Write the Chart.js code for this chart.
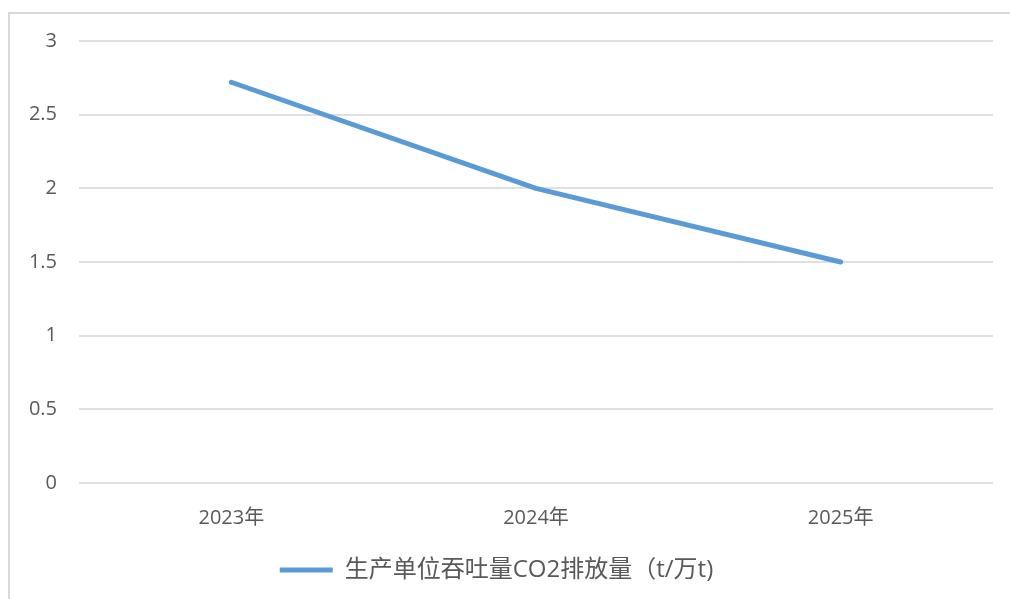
<!DOCTYPE html>
<html>
<head>
<meta charset="utf-8">
<script src="https://cdn.jsdelivr.net/npm/chart.js@4"></script>
<style>
  html, body { margin: 0; padding: 0; background: #fff; overflow: hidden; }
  #frame {
    position: absolute; left: 8px; top: 12px; width: 1010px; height: 600px;
    border: 2px solid #d9d9d9; box-sizing: border-box;
  }
  #wrap { position: absolute; left: 0; top: 0; width: 1010px; height: 599px; }
</style>
</head>
<body>
<div id="frame"></div>
<div id="wrap"><canvas id="co2Chart"></canvas></div>
<script>
// chart data
const years = ['2023年', '2024年', '2025年'];
const co2PerThroughput = [2.72, 2.0, 1.5];
const seriesName = '生产单位吞吐量CO2排放量（t/万t)';
const yTicks = [0, 0.5, 1, 1.5, 2, 2.5, 3];

const textColor = '#595959';
const fontFamily = '"Open Sans", "Noto Sans CJK SC", sans-serif';

const ctx = document.getElementById('co2Chart').getContext('2d');

new Chart(ctx, {
  type: 'line',
  data: {
    labels: years,
    datasets: [{
      label: seriesName,
      data: co2PerThroughput,
      borderColor: '#5B9BD5',
      backgroundColor: '#5B9BD5',
      borderWidth: 5,
      borderCapStyle: 'round',
      borderJoinStyle: 'round',
      pointRadius: 0,
      pointHoverRadius: 0,
      tension: 0
    }]
  },
  options: {
    responsive: true,
    maintainAspectRatio: false,
    animation: false,
    layout: { padding: { left: 0, top: 41, right: 17, bottom: 7 } },
    scales: {
      x: {
        offset: true,
        grid: { display: false },
        border: { display: false },
        ticks: {
          color: textColor,
          font: { family: fontFamily, size: 20 },
          padding: 15,
          maxRotation: 0
        },
        afterFit: scale => { scale.height = 65; }
      },
      y: {
        min: 0,
        max: 3,
        afterBuildTicks: scale => { scale.ticks = yTicks.map(v => ({ value: v })); },
        grid: { color: '#e0e0e0', lineWidth: 2, drawTicks: false },
        border: { display: false },
        ticks: {
          color: textColor,
          font: { family: fontFamily, size: 20 },
          padding: 22,
          callback: value => String(value)
        },
        afterFit: scale => { scale.width = 79; }
      }
    },
    plugins: {
      legend: {
        position: 'bottom',
        labels: {
          color: textColor,
          font: { family: fontFamily, size: 24 },
          usePointStyle: true,
          pointStyle: 'line',
          pointStyleWidth: 53,
          padding: 10
        }
      },
      tooltip: { enabled: false }
    }
  }
});
</script>
</body>
</html>
